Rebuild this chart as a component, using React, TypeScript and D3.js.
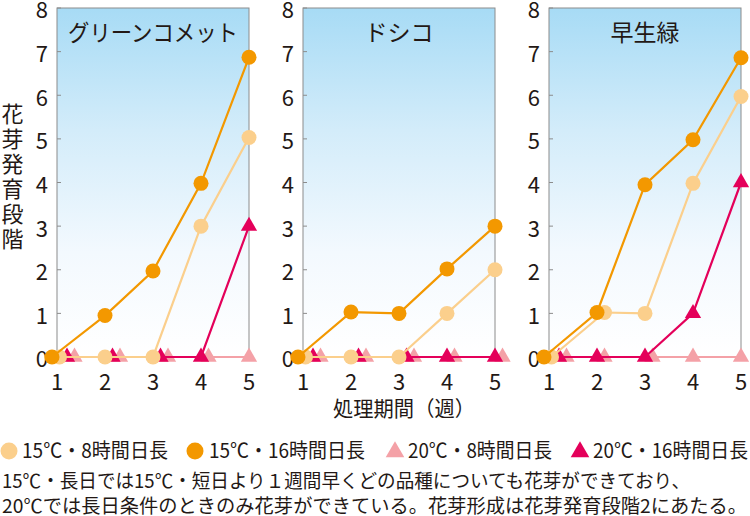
import React from "react";
import * as d3 from "d3";

const weeks = [1, 2, 3, 4, 5];
const varieties = ["グリーンコメット", "ドシコ", "早生緑"];
const yTicks = [0, 1, 2, 3, 4, 5, 6, 7, 8];

// values per variety (rows) per week (columns)
const s15short = [
  [0, 0, 0, 3.0, 5.03],
  [0, 0, 0, 1.0, 2.0],
  [0, 1.02, 1.0, 3.98, 5.97],
];
const s15long = [
  [0, 0.95, 1.97, 3.98, 6.87],
  [0, 1.03, 1.0, 2.02, 3.0],
  [0, 1.02, 3.95, 4.98, 6.86],
];
const s20short = [
  [0, 0, 0, 0, 0],
  [0, 0, 0, 0, 0],
  [0, 0, 0, 0, 0],
];
const s20long = [
  [0, 0, 0, 0, 3.0],
  [0, 0, 0, 0, 0],
  [0, 0, 0, 1.0, 4.0],
];

const legendLabels = ["15℃・8時間日長", "15℃・16時間日長", "20℃・8時間日長", "20℃・16時間日長"];
const yTitle = "花芽発育段階";
const xTitle = "処理期間（週）";
const captionLines = [
  "15℃・長日では15℃・短日より１週間早くどの品種についても花芽ができており、",
  "20℃では長日条件のときのみ花芽ができている。花芽形成は花芽発育段階2にあたる。",
];

type Series = { key: string; data: number[][]; color: string; shape: "circle" | "triangle"; label: string };

const seriesList: Series[] = [
  { key: "s15short", data: s15short, color: "#fbcf8c", shape: "circle", label: legendLabels[0] },
  { key: "s15long", data: s15long, color: "#f39800", shape: "circle", label: legendLabels[1] },
  { key: "s20short", data: s20short, color: "#f4a1a7", shape: "triangle", label: legendLabels[2] },
  { key: "s20long", data: s20long, color: "#e4005a", shape: "triangle", label: legendLabels[3] },
];

// order used for dodging coincident points and draw order (bottom to top)
const dodgeOrder = ["s15long", "s15short", "s20long", "s20short"];
const drawOrder = ["s20short", "s20long", "s15short", "s15long"];

const FONT = "'Noto Sans CJK JP', 'Noto Sans', sans-serif";
const panelLefts = [57, 303, 549];
const panelW = 192;
const top = 8;
const bottom = 357;

const tri = d3.symbol().type(d3.symbolTriangle).size(115)();
const triLegend = d3.symbol().type(d3.symbolTriangle).size(150)();

export default function App() {
  const y = d3.scaleLinear().domain([0, 8]).range([bottom, top]);

  return (
    <svg width={750} height={516} style={{ position: "absolute", left: 0, top: 0, fontFamily: FONT }}>
      <defs>
        <linearGradient id="bg" x1="0" y1="0" x2="0" y2="1">
          <stop offset="0%" stopColor="#a7dbf5" />
          <stop offset="35%" stopColor="#d3ecfa" />
          <stop offset="70%" stopColor="#f3f9fe" />
          <stop offset="100%" stopColor="#ffffff" />
        </linearGradient>
      </defs>
      <rect width={750} height={516} fill="#fff" />
      {varieties.map((name, vi) => {
        const left = panelLefts[vi];
        const x = d3.scaleLinear().domain([1, 5]).range([left, left + panelW]);
        // compute dodge offsets for coincident points
        const offsets: Record<string, number[]> = {};
        seriesList.forEach((s) => (offsets[s.key] = weeks.map(() => 0)));
        weeks.forEach((w, wi) => {
          const groups = new Map<number, string[]>();
          dodgeOrder.forEach((k) => {
            const s = seriesList.find((ss) => ss.key === k)!;
            const v = s.data[vi][wi];
            if (!groups.has(v)) groups.set(v, []);
            groups.get(v)!.push(k);
          });
          groups.forEach((keys) => {
            if (keys.length < 2) return;
            keys.forEach((k, r) => {
              offsets[k][wi] = r * 7.5 + (wi === 0 ? -5 : 0);
            });
          });
        });
        return (
          <g key={name}>
            <rect x={left} y={top} width={panelW} height={bottom - top} fill="url(#bg)" stroke="#8c8c8c" strokeWidth={1} />
            {yTicks.map((t) => (
              <g key={t}>
                <line x1={left} x2={left + 4} y1={y(t)} y2={y(t)} stroke="#8c8c8c" strokeWidth={1} />
                <text x={left - 9} y={y(t) + 2.5} dy="0.36em" textAnchor="end" fontSize={22} fill="#231815">
                  {t}
                </text>
              </g>
            ))}
            {weeks.map((w) => (
              <text key={w} x={x(w)} y={382} dy="0.36em" textAnchor="middle" fontSize={22} fill="#231815">
                {w}
              </text>
            ))}
            <text
              x={left + panelW / 2}
              y={33}
              dy="0.36em"
              textAnchor="middle"
              fontSize={23}
              fill="#231815"
              {...(vi === 0 ? { textLength: 170, lengthAdjust: "spacingAndGlyphs" } : {})}
            >
              {name}
            </text>
            {drawOrder.map((k) => {
              const s = seriesList.find((ss) => ss.key === k)!;
              const pts: [number, number][] = weeks.map((w, wi) => [x(w) + offsets[k][wi], y(s.data[vi][wi])]);
              const line = d3.line()(pts);
              return (
                <g key={k}>
                  <path d={line!} fill="none" stroke={s.color} strokeWidth={2.2} />
                  {pts.map(([px, py], i) =>
                    s.shape === "circle" ? (
                      <circle key={i} cx={px} cy={py} r={7.5} fill={s.color} />
                    ) : (
                      <path key={i} d={tri!} transform={`translate(${px},${py})`} fill={s.color} />
                    )
                  )}
                </g>
              );
            })}
          </g>
        );
      })}
      {/* y title, vertical */}
      <text
        x={12.5}
        y={103}
        fontSize={22}
        fill="#231815"
        style={{ writingMode: "vertical-rl" }}
        textLength={147}
        lengthAdjust="spacing"
      >
        {yTitle}
      </text>
      <text x={404} y={408} dy="0.36em" textAnchor="middle" fontSize={21} fill="#231815" textLength={142} lengthAdjust="spacingAndGlyphs">
        {xTitle}
      </text>
      {/* legend */}
      {[
        { mx: 9, tx: 22, w: 146 },
        { mx: 195, tx: 209, w: 156 },
        { mx: 395, tx: 408, w: 144 },
        { mx: 580, tx: 593, w: 155 },
      ].map((p, i) => {
        const s = seriesList[i];
        return (
          <g key={i}>
            {s.shape === "circle" ? (
              <circle cx={p.mx} cy={451} r={8.5} fill={s.color} />
            ) : (
              <path d={triLegend!} transform={`translate(${p.mx},${452})`} fill={s.color} />
            )}
            <text x={p.tx} y={451} dy="0.36em" fontSize={20} fill="#231815" textLength={p.w} lengthAdjust="spacingAndGlyphs">
              {s.label}
            </text>
          </g>
        );
      })}
      {captionLines.map((t, i) => (
        <text
          key={i}
          x={2}
          y={481 + i * 25}
          dy="0.36em"
          fontSize={19}
          fill="#231815"
          textLength={i === 0 ? 688 : 745}
          lengthAdjust="spacingAndGlyphs"
        >
          {t}
        </text>
      ))}
    </svg>
  );
}
